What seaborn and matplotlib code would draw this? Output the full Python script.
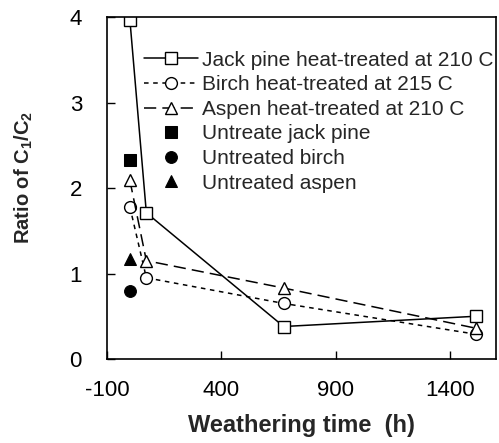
import matplotlib
matplotlib.use("Agg")
import matplotlib.pyplot as plt
import seaborn as sns
import pandas as pd

time_h = [0, 72, 672, 1512]
jack_pine = [3.97, 1.71, 0.38, 0.50]
birch = [1.78, 0.95, 0.65, 0.29]
aspen = [2.09, 1.15, 0.83, 0.36]
untreated_time = [0]
untreated_jack = [2.33]
untreated_birch = [0.80]
untreated_aspen = [1.17]

labels = ["Jack pine heat-treated at 210 C", "Birch heat-treated at 215 C",
          "Aspen heat-treated at 210 C", "Untreate jack pine",
          "Untreated birch", "Untreated aspen"]

sns.set_style("ticks")
plt.rcParams['font.family'] = ['Liberation Sans', 'DejaVu Sans']
plt.rcParams['mathtext.fontset'] = 'custom'
plt.rcParams['mathtext.rm'] = 'Liberation Sans:bold'
plt.rcParams['mathtext.bf'] = 'Liberation Sans:bold'
plt.rcParams['axes.unicode_minus'] = False

fig = plt.figure(figsize=(4.99, 4.43), dpi=100)
ax = fig.add_axes([0.2144, 0.1896, 0.7796, 0.7720])

ms = 8.5
df = pd.DataFrame({"t": time_h, "jack": jack_pine, "birch": birch, "aspen": aspen})
sns.lineplot(data=df, x="t", y="jack", ax=ax, color="black", lw=1.1, marker="s",
             markersize=ms, markerfacecolor="white", markeredgecolor="black",
             markeredgewidth=1.0, label=labels[0])
sns.lineplot(data=df, x="t", y="birch", ax=ax, color="black", lw=1.1, marker="o",
             markersize=ms, markerfacecolor="white", markeredgecolor="black",
             markeredgewidth=1.0, linestyle=(0, (3, 3)), label=labels[1])
sns.lineplot(data=df, x="t", y="aspen", ax=ax, color="black", lw=1.1, marker="^",
             markersize=ms, markerfacecolor="white", markeredgecolor="black",
             markeredgewidth=1.0, linestyle=(0, (8, 4)), label=labels[2])

du = pd.DataFrame({"t": untreated_time, "jp": untreated_jack, "b": untreated_birch, "a": untreated_aspen})
sns.lineplot(data=du, x="t", y="jp", ax=ax, color="black", lw=0, marker="s",
             markersize=ms, markeredgecolor="black", label=labels[3])
sns.lineplot(data=du, x="t", y="b", ax=ax, color="black", lw=0, marker="o",
             markersize=ms, markeredgecolor="black", label=labels[4])
sns.lineplot(data=du, x="t", y="a", ax=ax, color="black", lw=0, marker="^",
             markersize=ms, markeredgecolor="black", label=labels[5])

ax.set_xlim(-100, 1600)
ax.set_ylim(0, 4)
ax.set_xticks([-100, 400, 900, 1400])
ax.set_yticks([0, 1, 2, 3, 4])
ax.tick_params(direction="in", length=6, width=1.0, labelsize=16, colors="black")
ax.tick_params(axis="y", pad=18)
ax.tick_params(axis="x", pad=15)
for s in ax.spines.values():
    s.set_visible(True)
    s.set_linewidth(1.2)
    s.set_color("black")

ax.set_xlabel("Weathering time  (h)", fontsize=17, fontweight="bold")
ax.set_ylabel(r"Ratio of C$_{1}$/C$_{2}$", fontsize=14.5, fontweight="bold")
ax.xaxis.label.set_va("center")
ax.yaxis.label.set_va("center")
ax.xaxis.set_label_coords(0.50, -0.193)
ax.yaxis.set_label_coords(-0.213, 0.53)

leg = ax.legend(loc="upper right", bbox_to_anchor=(1.0, 0.908), frameon=False,
                fontsize=15, handlelength=2.6, handletextpad=0.2, labelspacing=0.27,
                borderpad=0.0, borderaxespad=0.1)

fig.savefig("out.png", dpi=100)
